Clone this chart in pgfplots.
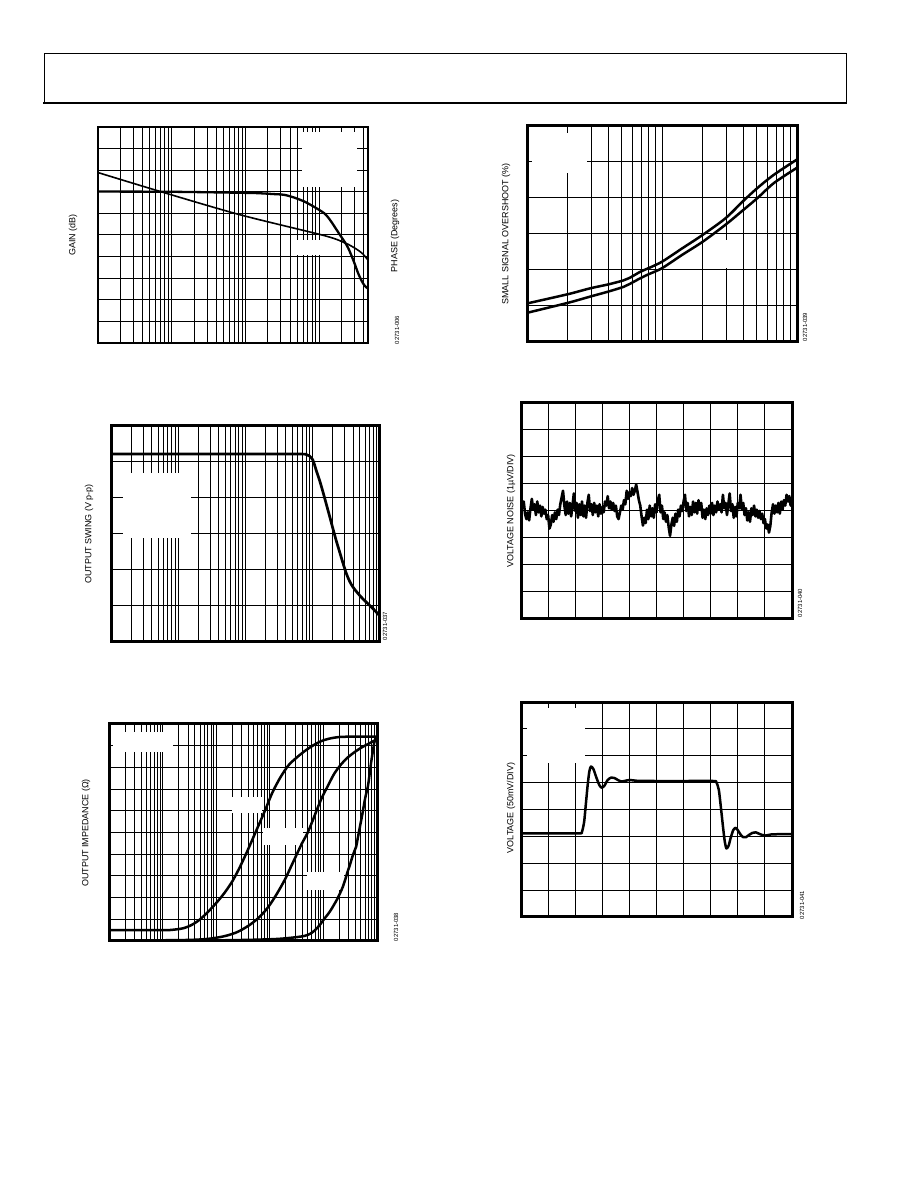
\documentclass[border=0pt]{standalone}
\usepackage{fontspec}
\setmainfont{Liberation Sans}
\usepackage{pgfplots}
\pgfplotsset{compat=1.18}
\pgfplotsset{
  ds/.style={scale only axis, anchor=south west,
    grid=both,
    grid style={black, line width=1bp},
    minor grid style={black, line width=1bp},
    major tick length=0pt, minor tick length=0pt,
    xticklabels={}, yticklabels={},
    axis line style={line width=3bp},
    clip=true},
  dscurve/.style={black, line width=2.5bp, no markers, line join=round, line cap=round},
}
\newcommand{\lab}[3]{\node[rotate=90, font=\fontsize{9}{10}\selectfont] at (#1bp,#2bp) {#3};}
\newcommand{\code}[3]{\node[rotate=90, font=\fontsize{6}{7}\selectfont] at (#1bp,#2bp) {#3};}
\begin{document}
\begin{tikzpicture}
\path[use as bounding box] (0,0) rectangle (918bp,1188bp);
\fill[white] (0,0) rectangle (918bp,1188bp);
% header
\draw[line width=1bp] (44bp,1085bp) rectangle (846bp,1134bp);
\draw[line width=2.5bp] (43bp,1085bp) -- (847bp,1085bp);

% ---------- Chart 1: gain / phase ----------
\begin{axis}[ds, at={(98bp,845bp)}, width=270bp, height=216bp,
  xmode=log, xmin=1, xmax=4560, ymin=0, ymax=10, ytick={0,...,10},
  axis line style={line width=1.2bp}]
\fill[white] (rel axis cs:0.756,0.722) rectangle (rel axis cs:0.959,0.977);
\fill[white] (rel axis cs:0.719,0.407) rectangle (rel axis cs:0.83,0.477);
\addplot[dscurve, line width=1.6bp, smooth] coordinates {
(1,7.89) (7.69,6.97) (85.5,5.93) (1169,4.97) (2193,4.64) (2704,4.49) (3334,4.30) (3890,4.12) (4560,3.84)};
\addplot[dscurve, line width=2.3bp, smooth] coordinates {
(1,7.01) (10,7.0) (100,6.95) (158.5,6.93) (251,6.89) (333,6.86) (457,6.73) (624,6.55) (851,6.3) (1169,6.0) (1380,5.72) (1603,5.39) (1862,5.05) (2193,4.69) (2455,4.4) (2704,4.07) (2999,3.68) (3334,3.25) (3698,2.91) (4111,2.65) (4560,2.52)};
\end{axis}
\lab{73}{953}{GAIN (dB)}
\lab{395}{952}{PHASE (Degrees)}
\code{397}{858}{02731-006}

% ---------- Chart 2: overshoot ----------
\begin{axis}[ds, at={(527bp,846bp)}, width=270bp, height=216bp,
  xmode=log, xmin=1, xmax=100, ymin=0, ymax=6, ytick={0,...,6}]
\fill[white] (rel axis cs:0.0185,0.782) rectangle (rel axis cs:0.222,0.968);
\fill[white] (rel axis cs:0.715,0.342) rectangle (rel axis cs:0.78,0.47);
\addplot[dscurve, smooth] coordinates {
(1,1.07) (2.02,1.33) (2.93,1.49) (4.0,1.60) (5.18,1.71) (5.75,1.78) (6.9,1.95) (7.94,2.05) (10,2.23) (14.1,2.6) (20.1,2.98) (29.6,3.44) (39.8,3.91) (51,4.28) (67.7,4.65) (100,5.07)};
\addplot[dscurve, smooth] coordinates {
(1,0.81) (2.02,1.09) (2.93,1.26) (4.0,1.40) (5.18,1.53) (5.75,1.61) (6.9,1.77) (7.94,1.88) (10,2.05) (14.1,2.42) (20.1,2.79) (29.6,3.26) (39.8,3.66) (51,4.0) (67.7,4.42) (100,4.84)};
\end{axis}
\lab{506}{954}{SMALL SIGNAL OVERSHOOT (\%)}
\code{805}{861}{02731-039}

% ---------- Chart 3: output swing ----------
\begin{axis}[ds, at={(111bp,546bp)}, width=269bp, height=216bp,
  xmode=log, xmin=1, xmax=10000, ymin=0, ymax=6, ytick={0,...,6}]
\fill[white] (rel axis cs:0.045,0.481) rectangle (rel axis cs:0.297,0.782);
\addplot[dscurve, line width=2.7bp, smooth] coordinates {
(1,5.22) (100,5.22) (631,5.22) (794,5.21) (891,5.17) (1000,5.06) (1072,4.9) (1148,4.72) (1259,4.5) (1413,4.18) (1585,3.84) (1778,3.5) (1995,3.15) (2239,2.81) (2512,2.5) (2818,2.19) (3162,1.9) (3548,1.68) (3981,1.52) (4467,1.4) (5012,1.29) (5623,1.19) (6310,1.1) (7079,1.01) (7943,0.92) (8913,0.82) (10000,0.72)};
\end{axis}
\lab{89}{654}{OUTPUT SWING (V p-p)}
\code{385}{562}{02731-037}

% ---------- Chart 4: voltage noise ----------
\begin{axis}[ds, at={(521bp,569bp)}, width=271bp, height=216bp,
  xmin=0, xmax=10, ymin=0, ymax=8, xtick={0,...,10}, ytick={0,...,8}]
\addplot[dscurve, line width=2.6bp] coordinates {
(0.00,4.30) (0.05,4.10) (0.10,4.35) (0.15,3.90) (0.20,3.70) (0.25,3.95) (0.30,3.65) (0.35,4.10) (0.40,4.45) (0.45,4.05)
(0.50,4.25) (0.55,3.85) (0.60,4.35) (0.65,3.95) (0.70,4.20) (0.75,3.80) (0.80,4.15) (0.85,3.90) (0.90,4.05) (0.95,3.70)
(1.00,3.85) (1.05,3.35) (1.10,3.50) (1.15,3.85) (1.20,3.60) (1.25,3.95) (1.30,3.70) (1.35,4.05) (1.40,3.85) (1.45,4.25)
(1.50,4.50) (1.55,4.75) (1.60,4.20) (1.65,3.85) (1.70,4.35) (1.75,3.90) (1.80,4.30) (1.85,3.80) (1.90,4.20) (1.95,4.65)
(2.00,4.00) (2.05,4.30) (2.10,3.75) (2.15,4.25) (2.20,3.85) (2.25,4.35) (2.30,3.80) (2.35,4.20) (2.40,3.75) (2.45,4.30)
(2.50,4.60) (2.55,4.00) (2.60,4.25) (2.65,3.85) (2.70,4.30) (2.75,3.95) (2.80,4.20) (2.85,3.80) (2.90,4.25) (2.95,3.90)
(3.00,4.15) (3.05,3.95) (3.10,4.35) (3.15,4.20) (3.20,4.55) (3.25,4.10) (3.30,4.35) (3.35,4.05) (3.40,4.30) (3.45,4.00)
(3.50,4.20) (3.55,3.80) (3.60,3.70) (3.65,3.95) (3.70,4.20) (3.75,4.05) (3.80,4.40) (3.85,4.25) (3.90,4.75) (3.95,4.45)
(4.00,4.70) (4.05,4.55) (4.10,4.85) (4.15,4.60) (4.20,4.75) (4.25,4.98) (4.30,4.70) (4.35,4.40) (4.40,4.20) (4.45,3.80)
(4.50,3.46) (4.55,3.75) (4.60,3.55) (4.65,4.05) (4.70,3.70) (4.75,4.20) (4.80,3.80) (4.85,4.10) (4.90,3.75) (4.95,4.25)
(5.00,3.95) (5.05,4.40) (5.10,4.60) (5.15,3.95) (5.20,4.20) (5.25,3.70) (5.30,3.95) (5.35,3.60) (5.40,3.85) (5.45,3.40)
(5.50,3.08) (5.55,3.50) (5.60,3.75) (5.65,3.45) (5.70,3.90) (5.75,3.60) (5.80,4.05) (5.85,3.80) (5.90,4.20) (5.95,4.00)
(6.00,4.35) (6.05,4.60) (6.10,4.00) (6.15,4.30) (6.20,3.80) (6.25,4.15) (6.30,3.85) (6.35,4.35) (6.40,3.95) (6.45,4.30)
(6.50,3.90) (6.55,4.40) (6.60,4.05) (6.65,4.30) (6.70,3.75) (6.75,4.05) (6.80,3.70) (6.85,4.10) (6.90,3.85) (6.95,4.20)
(7.00,3.90) (7.05,4.30) (7.10,3.85) (7.15,4.20) (7.20,3.95) (7.25,4.35) (7.30,4.05) (7.35,4.25) (7.40,3.95) (7.45,4.60)
(7.50,4.10) (7.55,4.30) (7.60,3.85) (7.65,4.25) (7.70,4.65) (7.75,4.00) (7.80,4.25) (7.85,3.75) (7.90,4.15) (7.95,3.80)
(8.00,4.30) (8.05,4.10) (8.10,4.60) (8.15,4.05) (8.20,4.30) (8.25,3.85) (8.30,4.10) (8.35,3.65) (8.40,3.95) (8.45,3.60)
(8.50,4.10) (8.55,3.85) (8.60,4.20) (8.65,3.80) (8.70,4.05) (8.75,3.75) (8.80,4.00) (8.85,3.70) (8.90,3.90) (8.95,3.55)
(9.00,3.70) (9.05,3.35) (9.10,3.50) (9.15,3.20) (9.20,3.45) (9.25,3.95) (9.30,4.25) (9.35,3.90) (9.40,4.20) (9.45,3.95)
(9.50,4.30) (9.55,3.90) (9.60,4.35) (9.65,4.05) (9.70,4.40) (9.75,4.20) (9.80,4.60) (9.85,4.35) (9.90,4.55) (9.95,4.20)
(10.00,4.35)};
\end{axis}
\lab{511}{677}{VOLTAGE NOISE (1µV/DIV)}
\code{800}{585}{02731-040}

% ---------- Chart 5: output impedance ----------
\begin{axis}[ds, at={(109bp,247bp)}, width=268bp, height=217bp,
  xmode=log, xmin=1, xmax=100000, ymin=0, ymax=10, ytick={0,...,10}]
\fill[white] (rel axis cs:0.015,0.871) rectangle (rel axis cs:0.239,0.963);
\fill[white] (rel axis cs:0.459,0.590) rectangle (rel axis cs:0.571,0.664);
\fill[white] (rel axis cs:0.575,0.442) rectangle (rel axis cs:0.724,0.521);
\fill[white] (rel axis cs:0.739,0.235) rectangle (rel axis cs:0.875,0.318);
\addplot[dscurve, smooth] coordinates {
(1,0.5) (10,0.5) (15.8,0.52) (24.5,0.59) (35.5,0.75) (50.1,1.0) (70.8,1.35) (100,1.75) (141,2.2) (200,2.75) (282,3.45) (398,4.25) (562,5.1) (794,5.95) (1122,6.85) (1585,7.55) (2239,8.1) (3162,8.45) (4467,8.75) (6310,9.0) (8913,9.2) (12589,9.32) (19953,9.4) (39811,9.42) (100000,9.42)};
\addplot[dscurve, smooth] coordinates {
(1,0.02) (20,0.04) (57.5,0.08) (100,0.15) (158,0.25) (251,0.42) (398,0.7) (575,1.0) (794,1.35) (1023,1.7) (1413,2.25) (1950,2.87) (2512,3.45) (3236,4.03) (3981,4.5) (5012,4.96) (6310,5.55) (7762,6.12) (9550,6.65) (12023,7.13) (15849,7.7) (21380,8.14) (28184,8.45) (38019,8.7) (50119,8.9) (70795,9.1) (100000,9.3)};
\addplot[dscurve, smooth] coordinates {
(1,0.02) (100,0.03) (1023,0.08) (2512,0.15) (4365,0.23) (5623,0.33) (6761,0.47) (8318,0.7) (10233,1.0) (12023,1.22) (13804,1.43) (15849,1.68) (18197,1.94) (20417,2.2) (22909,2.48) (25704,2.85) (28184,3.18) (31623,3.55) (34674,3.88) (38019,4.15) (40738,4.34) (43652,4.72) (46774,5.12) (50119,5.5) (53703,5.89) (60256,6.59) (67608,7.13) (72444,7.65) (77625,8.22) (83176,8.7) (89125,9.15) (95499,9.35) (100000,9.41)};
\end{axis}
\lab{86}{355}{OUTPUT IMPEDANCE (Ω)}
\code{396}{261}{02731-038}

% ---------- Chart 6: pulse response ----------
\begin{axis}[ds, at={(521bp,271bp)}, width=271bp, height=215bp,
  xmin=0, xmax=10, ymin=0, ymax=8, xtick={0,...,10}, ytick={0,...,8}]
\fill[white] (rel axis cs:0.022,0.716) rectangle (rel axis cs:0.236,0.972);
\addplot[dscurve, smooth, tension=0.4] coordinates {
(0,3.11) (1.0,3.11) (2.15,3.11) (2.25,3.17) (2.33,3.54) (2.39,4.17) (2.46,4.91) (2.52,5.41) (2.58,5.60) (2.67,5.51) (2.77,5.22) (2.89,4.91) (2.98,4.81) (3.08,4.89) (3.20,5.10) (3.33,5.19) (3.45,5.17) (3.57,5.10) (3.70,5.04) (3.82,5.06) (4.01,5.10) (4.26,5.07) (5.0,5.06) (6.0,5.06) (7.11,5.06) (7.21,5.01) (7.30,4.73) (7.38,4.04) (7.46,3.30) (7.52,2.80) (7.58,2.55) (7.66,2.65) (7.73,2.92) (7.83,3.23) (7.92,3.32) (8.00,3.23) (8.10,3.07) (8.20,2.97) (8.30,2.97) (8.41,3.05) (8.54,3.13) (8.66,3.15) (8.78,3.10) (8.91,3.05) (9.03,3.03) (9.22,3.07) (9.47,3.08) (10,3.08)};
\end{axis}
\lab{511}{380}{VOLTAGE (50mV/DIV)}
\code{802}{283}{02731-041}
\end{tikzpicture}
\end{document}
